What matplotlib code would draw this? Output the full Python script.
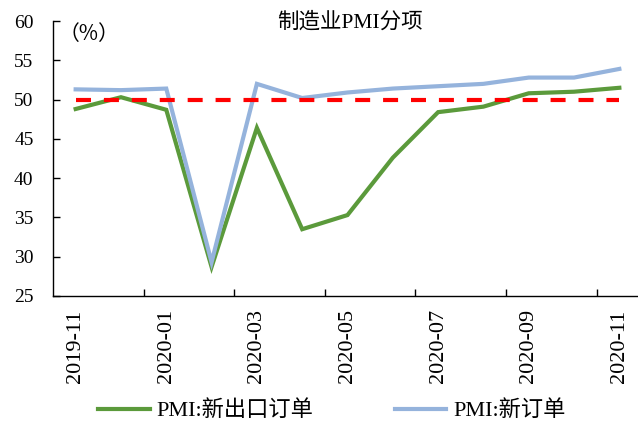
import matplotlib
matplotlib.use("Agg")
import matplotlib.pyplot as plt
from matplotlib.lines import Line2D

plt.rcParams['font.family'] = ['Liberation Serif', 'Noto Sans CJK SC', 'DejaVu Sans']

months = ["2019-11", "2019-12", "2020-01", "2020-02", "2020-03", "2020-04",
          "2020-05", "2020-06", "2020-07", "2020-08", "2020-09", "2020-10", "2020-11"]
new_export_orders = [48.8, 50.3, 48.7, 28.7, 46.4, 33.5, 35.3, 42.6, 48.4, 49.1, 50.8, 51.0, 51.5]
new_orders = [51.3, 51.2, 51.4, 29.3, 52.0, 50.2, 50.9, 51.4, 51.7, 52.0, 52.8, 52.8, 53.9]
threshold = [50.0] * len(months)

green = "#5B9A3B"
blue = "#95B3DC"
red = "#FF0000"

fig = plt.figure(figsize=(6.38, 4.28), dpi=100)
ax = fig.add_axes([53 / 638, 1 - 296 / 428, 589 / 638, 275 / 428])

x = list(range(len(months)))
ax.plot(x, new_export_orders, color=green, lw=3.0, solid_joinstyle='miter')
ax.plot(x, new_orders, color=blue, lw=3.0, solid_joinstyle='miter')
ax.plot(x, threshold, color=red, lw=3.0, dashes=(3.6, 3.1))

ax.set_xlim(-0.5, len(months) - 0.5)
ax.set_ylim(25, 60)
ax.set_yticks(range(25, 61, 5))
ax.tick_params(axis='y', direction='in', length=5, width=1, pad=14, labelsize=14)

# tick marks sit between categories, labels on every other category
ax.set_xticks([i + 1.5 for i in range(0, 12, 2)])
ax.set_xticklabels([])
ax.tick_params(axis='x', direction='in', length=5, width=1)
for i in range(0, len(months), 2):
    ax.text(i, 23.3, months[i], rotation=90, ha='center', va='top', fontsize=16,
            clip_on=False)

for s in ['top', 'right']:
    ax.spines[s].set_visible(False)
for s in ['left', 'bottom']:
    ax.spines[s].set_linewidth(1.0)
    ax.spines[s].set_color('black')

ax.text(0.3, 58.3, "（%）", fontsize=15, ha='center', va='center',
        family=['Noto Sans CJK SC'])
fig.text(350 / 638, 1 - 22 / 428, "制造业PMI分项", fontsize=15.5, ha='center', va='center')

handles = [Line2D([], [], color=green, lw=3.0), Line2D([], [], color=blue, lw=3.0)]
fig.legend(handles, ["PMI:新出口订单", "PMI:新订单"], loc='center', ncol=2,
           bbox_to_anchor=(332 / 638, 1 - 411 / 428), frameon=False, fontsize=16,
           handlelength=2.3, handletextpad=0.3, columnspacing=3.7)

fig.savefig("out.png", dpi=100)
